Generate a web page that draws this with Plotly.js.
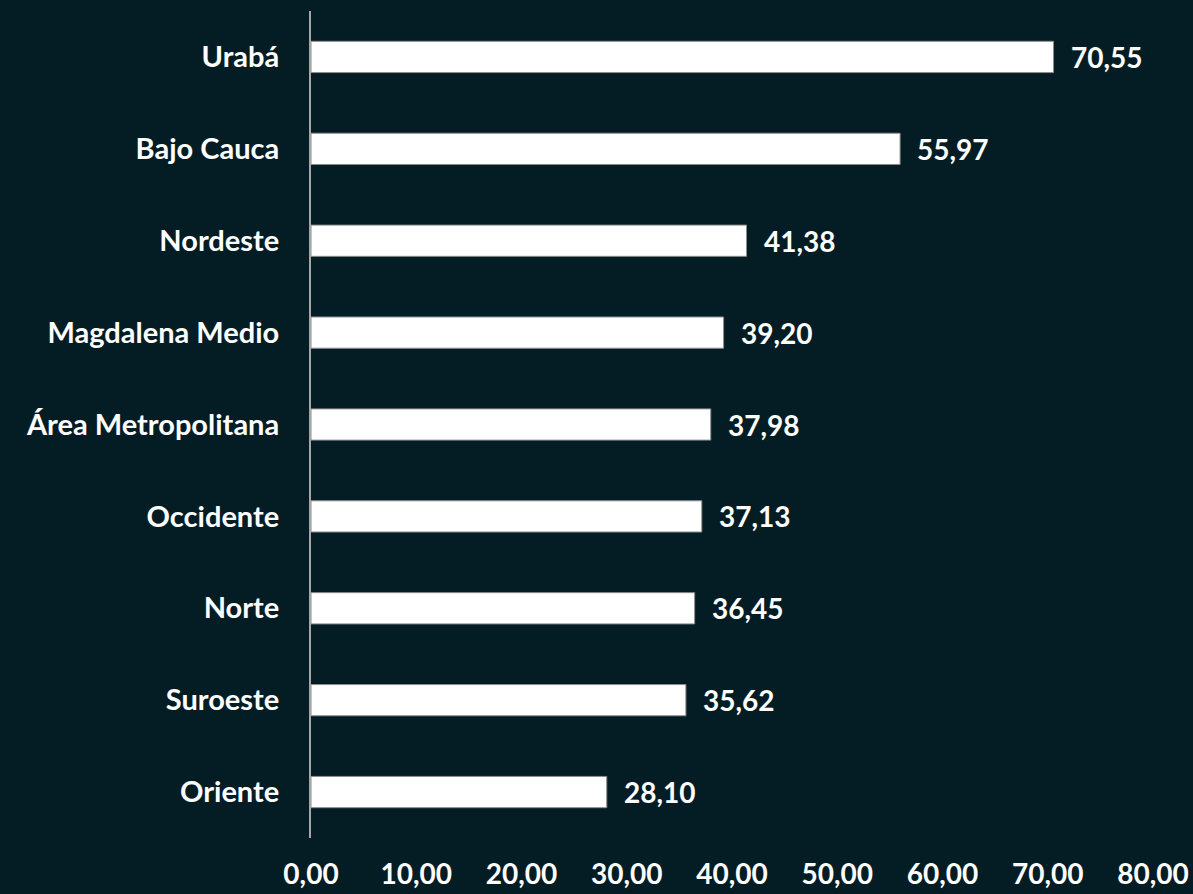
<!DOCTYPE html>
<html>
<head>
<meta charset="utf-8">
<script src="https://cdn.plot.ly/plotly-3.0.1.min.js"></script>
<style>
html,body{margin:0;padding:0;background:#041d25;}
#chart{width:1193px;height:894px;}
</style>
</head>
<body>
<div id="chart"></div>
<script>
const regions = ["Urabá","Bajo Cauca","Nordeste","Magdalena Medio","Área Metropolitana","Occidente","Norte","Suroeste","Oriente"];
const values = [70.55,55.97,41.38,39.20,37.98,37.13,36.45,35.62,28.10];
const xTicks = [0,10,20,30,40,50,60,70,80];

const fontFam = "Lato, 'Open Sans', sans-serif";
const fmt = v => v.toFixed(2).replace('.', ',');

const trace = {
  type: 'bar',
  orientation: 'h',
  x: values,
  y: regions,
  marker: {color: '#ffffff', line: {color: '#8c8c8c', width: 1}},
  hoverinfo: 'none'
};

const annotations = values.map((v, i) => ({
  x: v, y: regions[i], xref: 'x', yref: 'y',
  text: fmt(v), showarrow: false, xanchor: 'left', xshift: 15,
  font: {family: fontFam, size: 28, color: '#ffffff', weight: 'bold'}
}));

const layout = {
  width: 1193, height: 894,
  paper_bgcolor: '#041d25', plot_bgcolor: '#041d25',
  margin: {l: 311, r: 39.5, t: 11, b: 56},
  showlegend: false,
  bargap: 0.66,
  separators: ',.',
  xaxis: {
    range: [0, 80], tickvals: xTicks, tickformat: '.2f',
    showgrid: false, zeroline: false, showline: false,
    ticks: '', ticklabelstandoff: 17,
    tickfont: {family: fontFam, size: 28, color: '#ffffff', weight: 'bold'},
    fixedrange: true
  },
  yaxis: {
    autorange: 'reversed', type: 'category',
    showgrid: false, zeroline: false,
    showline: true, linecolor: '#a6a6a6', linewidth: 2,
    ticks: '', ticklabelstandoff: 24,
    tickfont: {family: fontFam, size: 29, color: '#ffffff', weight: 'bold'},
    fixedrange: true
  },
  annotations: annotations
};

Plotly.newPlot('chart', [trace], layout, {displayModeBar: false, staticPlot: true});
</script>
</body>
</html>
